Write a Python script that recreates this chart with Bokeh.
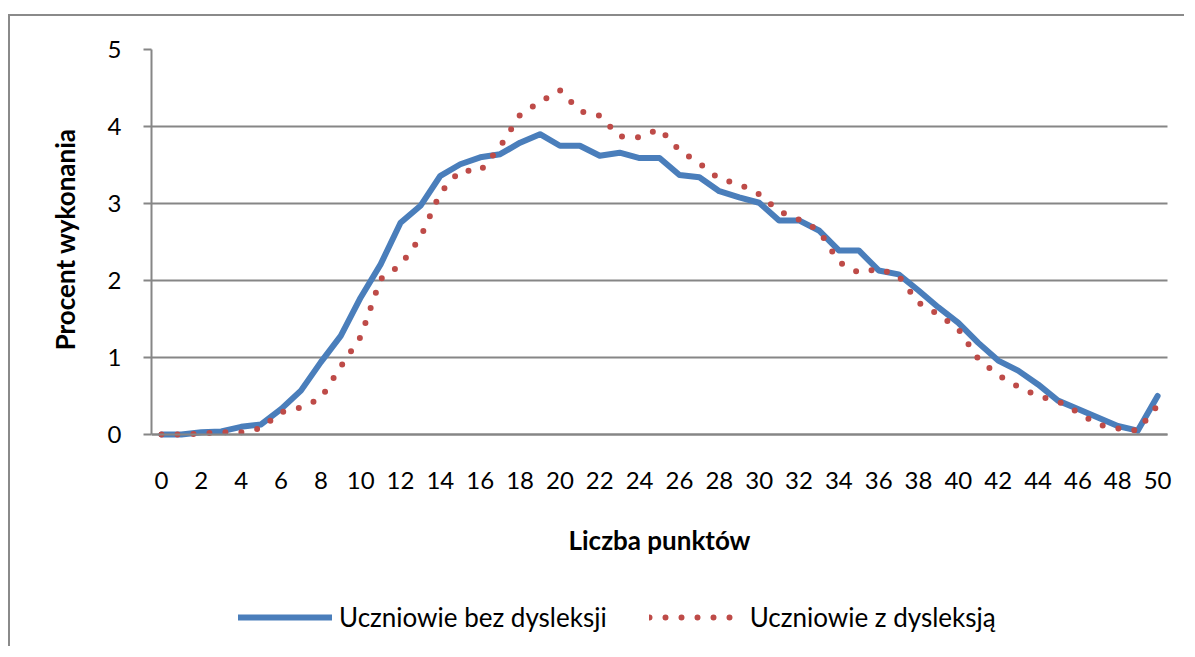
from bokeh.plotting import figure
from bokeh.models import FixedTicker, Legend, LegendItem, Title
from bokeh.embed import file_html
from bokeh.resources import INLINE

points = list(range(51))
x_ticks = list(range(0, 51, 2))
y_ticks = [0, 1, 2, 3, 4, 5]

bez_dysleksji = [0.00, 0.00, 0.03, 0.04, 0.10, 0.13, 0.33, 0.57, 0.94, 1.28,
                 1.78, 2.21, 2.75, 2.97, 3.36, 3.51, 3.60, 3.64, 3.79, 3.90,
                 3.75, 3.75, 3.62, 3.66, 3.59, 3.59, 3.37, 3.34, 3.16, 3.08,
                 3.01, 2.78, 2.78, 2.65, 2.39, 2.39, 2.13, 2.08, 1.87, 1.65,
                 1.45, 1.19, 0.96, 0.83, 0.65, 0.44, 0.33, 0.22, 0.11, 0.05,
                 0.50]
z_dysleksja = [0.00, 0.00, 0.01, 0.03, 0.03, 0.08, 0.29, 0.35, 0.47, 0.88,
               1.27, 2.02, 2.20, 2.56, 3.14, 3.43, 3.42, 3.74, 4.15, 4.32,
               4.47, 4.20, 4.14, 3.87, 3.86, 3.97, 3.69, 3.52, 3.32, 3.25,
               3.12, 2.90, 2.79, 2.65, 2.24, 2.10, 2.15, 2.06, 1.71, 1.56,
               1.37, 0.98, 0.77, 0.62, 0.50, 0.43, 0.29, 0.13, 0.08, 0.05,
               0.38]

series_names = ["Uczniowie bez dysleksji", "Uczniowie z dysleksją"]
x_title = "Liczba punktów"
y_title = "Procent wykonania"

FONT = "Lato"
GRAY = "#868686"

# layout: plot area 385 px tall for 0..5, extra room below 0 for labels/legend
FIG_H = 632
TOP = 33
PX_PER_UNIT = 77
below_px = FIG_H - TOP - 5 * PX_PER_UNIT
X_LO, X_HI = -0.5, 50.5
x_extra = 0.9  # room on the right for the last tick label

p = figure(width=1176, height=FIG_H, x_range=(X_LO, X_HI + x_extra),
           y_range=(-below_px / PX_PER_UNIT, 5),
           output_backend="svg", toolbar_location=None,
           min_border_left=141, min_border_right=1,
           min_border_top=TOP, min_border_bottom=0)
p.styles = {"margin-top": "14px", "margin-left": "8px",
            "border-top": "2px solid #8a8a8a",
            "border-left": "2px solid #8a8a8a"}
p.outline_line_color = None
p.background_fill_color = "white"
p.border_fill_color = "white"

p.xgrid.visible = False
p.ygrid.grid_line_color = GRAY
p.ygrid.grid_line_width = 2
p.ygrid.ticker = FixedTicker(ticks=y_ticks)
if "cross_bounds" in p.ygrid[0].properties():
    p.ygrid.cross_bounds = (X_LO, X_HI)

r1 = p.line(points, bez_dysleksji, line_color="#4A7EBB", line_width=6,
            line_join="round", line_cap="round")
r2 = p.line(points, z_dysleksja, line_color="#BE4B48", line_width=6,
            line_dash="0 16", line_cap="round", line_join="round")

p.xaxis.ticker = FixedTicker(ticks=x_ticks)
p.yaxis.ticker = FixedTicker(ticks=y_ticks)
for ax in (p.xaxis[0], p.yaxis[0]):
    ax.axis_line_color = GRAY
    ax.axis_line_width = 2
    ax.major_tick_line_color = GRAY
    ax.major_tick_line_width = 2
    ax.minor_tick_line_color = None
    ax.major_label_text_font = FONT
    ax.major_label_text_font_size = "24px"
    ax.major_label_text_color = "black"
    ax.axis_label_text_font = FONT
    ax.axis_label_text_font_size = "26px"
    ax.axis_label_text_font_style = "bold"
    ax.axis_label_text_color = "black"

p.xaxis.fixed_location = 0
p.xaxis.bounds = (X_LO, X_HI)
p.xaxis.major_tick_out = 0
p.xaxis.major_tick_in = 0
p.xaxis.major_label_standoff = 37
p.xaxis.axis_label = x_title
p.xaxis.axis_label_standoff = 32

p.yaxis.bounds = (0, 5)
p.yaxis.major_tick_out = 8
p.yaxis.major_tick_in = 0
p.yaxis.major_label_standoff = 22

ytitle = Title(text=y_title, align="right", vertical_align="middle",
               offset=79, standoff=46, text_font=FONT,
               text_font_size="26px", text_font_style="bold",
               text_color="black")
p.add_layout(ytitle, "left")

legend = Legend(items=[LegendItem(label=series_names[0], renderers=[r1]),
                       LegendItem(label=series_names[1], renderers=[r2])],
                orientation="horizontal", location=(87, 15),
                glyph_width=94, glyph_height=24, label_standoff=7, spacing=42,
                padding=0, margin=0, border_line_alpha=0,
                background_fill_alpha=0, label_text_font=FONT,
                label_text_font_size="26px", label_text_color="black")
p.add_layout(legend)

open("out.html", "w").write(file_html(p, INLINE))
